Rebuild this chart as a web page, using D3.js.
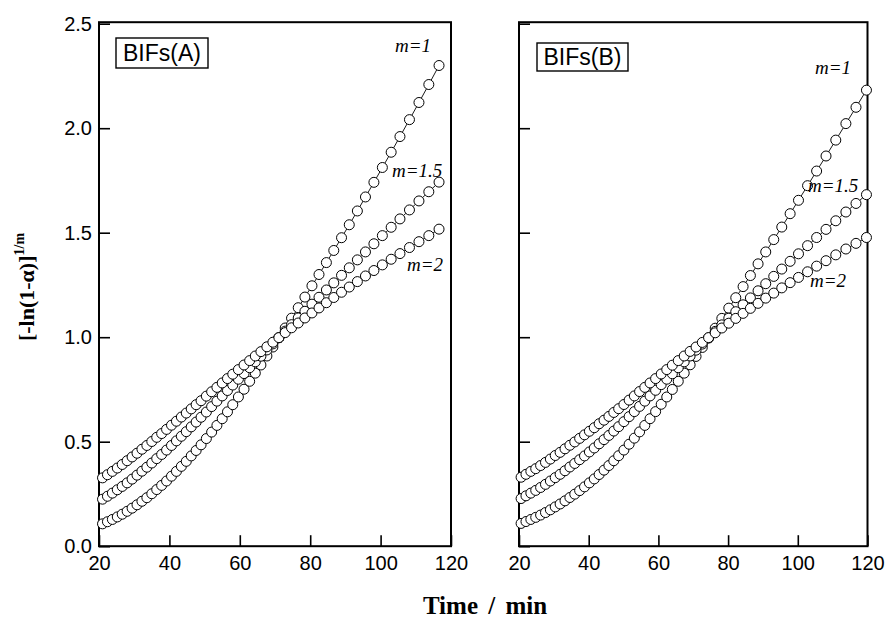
<!DOCTYPE html>
<html>
<head>
<meta charset="utf-8">
<script src="https://cdn.jsdelivr.net/npm/d3@7"></script>
<style>
    body { margin: 0; background: #fff; }
    .tick text { font-family: "Liberation Sans", Arial, Helvetica, sans-serif; font-size: 20px; fill: #000; }
    .tick line { stroke: #000; stroke-width: 1.6px; }
    .frame { fill: none; stroke: #000; stroke-width: 2px; }
    .series-line { fill: none; stroke: #000; stroke-width: 0.9px; }
    .pt { fill: #fff; stroke: #000; stroke-width: 1px; }
    .tag { font-family: "Liberation Sans", Arial, sans-serif; font-size: 23px; }
    .tagBox { fill: #fff; stroke: #000; stroke-width: 1.4px; }
    .mlabel { font-family: "Liberation Serif", "Times New Roman", serif; font-style: italic; font-size: 19px; }
    .axisTitle { font-family: "Liberation Serif", "Times New Roman", serif; font-weight: bold; font-size: 22px; }
</style>
</head>
<body>
<script>
//axis ticks
var xTicks = [20, 40, 60, 80, 100, 120];
var yTicks = [0.0, 0.5, 1.0, 1.5, 2.0, 2.5];
var seriesNames = ["m=1", "m=1.5", "m=2"];

//panel A : time (min) and [-ln(1-a)]^(1/m) for each m
var timeA = [21, 22.4, 23.8, 25.2, 26.6, 28, 29.4, 30.8, 32.2, 33.6,
    35, 36.4, 37.8, 39.2, 40.6, 42, 43.4, 44.8, 46.2, 47.6,
    49, 50.5, 52, 53.5, 55, 56.5, 58, 59.6, 61.2, 62.8,
    64.4, 66, 67.7, 69.4, 71.1, 72.9, 74.7, 76.6, 78.5, 80.5,
    82.5, 84.6, 86.7, 88.9, 91.1, 93.4, 95.7, 98.1, 100.5, 103,
    105.5, 108.2, 110.9, 113.7, 116.6];
var m1A = [0.107, 0.117, 0.128, 0.140, 0.153, 0.167, 0.182, 0.198, 0.215, 0.232,
    0.251, 0.271, 0.291, 0.312, 0.335, 0.358, 0.382, 0.406, 0.432, 0.458,
    0.485, 0.515, 0.546, 0.578, 0.610, 0.643, 0.677, 0.714, 0.751, 0.789,
    0.828, 0.867, 0.910, 0.953, 0.997, 1.044, 1.091, 1.141, 1.192, 1.246,
    1.300, 1.357, 1.415, 1.476, 1.538, 1.604, 1.671, 1.741, 1.812, 1.885,
    1.960, 2.041, 2.123, 2.209, 2.300];
var m15A = [0.225, 0.239, 0.254, 0.270, 0.286, 0.303, 0.321, 0.340, 0.359, 0.378,
    0.398, 0.419, 0.439, 0.460, 0.482, 0.504, 0.526, 0.548, 0.571, 0.594,
    0.617, 0.642, 0.668, 0.694, 0.719, 0.745, 0.771, 0.799, 0.826, 0.854,
    0.882, 0.909, 0.939, 0.968, 0.998, 1.029, 1.060, 1.092, 1.124, 1.158,
    1.191, 1.226, 1.260, 1.296, 1.332, 1.370, 1.408, 1.447, 1.486, 1.526,
    1.566, 1.609, 1.652, 1.696, 1.742];
var m2A = [0.327, 0.342, 0.358, 0.374, 0.391, 0.409, 0.427, 0.445, 0.464, 0.482,
    0.501, 0.521, 0.539, 0.559, 0.579, 0.598, 0.618, 0.637, 0.657, 0.677,
    0.696, 0.718, 0.739, 0.760, 0.781, 0.802, 0.823, 0.845, 0.867, 0.888,
    0.910, 0.931, 0.954, 0.976, 0.998, 1.022, 1.045, 1.068, 1.092, 1.116,
    1.140, 1.165, 1.190, 1.215, 1.240, 1.266, 1.293, 1.319, 1.346, 1.373,
    1.400, 1.429, 1.457, 1.486, 1.517];

//panel B
var timeB = [20.6, 22, 23.4, 24.8, 26.2, 27.6, 29, 30.4, 31.8, 33.2,
    34.6, 36, 37.4, 38.8, 40.2, 41.6, 43, 44.4, 45.8, 47.2,
    48.6, 50.1, 51.6, 53.1, 54.6, 56.1, 57.6, 59.2, 60.8, 62.4,
    64, 65.7, 67.4, 69.1, 70.8, 72.6, 74.4, 76.3, 78.2, 80.2,
    82.2, 84.3, 86.4, 88.6, 90.8, 93.1, 95.4, 97.8, 100.2, 102.8,
    105.4, 108.1, 110.9, 113.8, 116.7, 119.7];
var m1B = [0.109, 0.118, 0.128, 0.138, 0.149, 0.161, 0.174, 0.188, 0.202, 0.217,
    0.233, 0.249, 0.266, 0.284, 0.303, 0.322, 0.343, 0.364, 0.386, 0.409,
    0.433, 0.460, 0.488, 0.517, 0.547, 0.578, 0.610, 0.644, 0.679, 0.714,
    0.750, 0.789, 0.828, 0.868, 0.908, 0.951, 0.996, 1.043, 1.090, 1.139,
    1.189, 1.242, 1.295, 1.351, 1.408, 1.467, 1.527, 1.591, 1.655, 1.725,
    1.795, 1.867, 1.943, 2.022, 2.100, 2.182];
var m15B = [0.228, 0.241, 0.254, 0.267, 0.281, 0.296, 0.312, 0.328, 0.344, 0.361,
    0.379, 0.396, 0.414, 0.432, 0.451, 0.470, 0.490, 0.510, 0.530, 0.551,
    0.572, 0.596, 0.620, 0.644, 0.669, 0.694, 0.719, 0.746, 0.773, 0.799,
    0.825, 0.854, 0.882, 0.910, 0.938, 0.967, 0.997, 1.028, 1.059, 1.091,
    1.122, 1.155, 1.188, 1.222, 1.256, 1.291, 1.326, 1.363, 1.399, 1.438,
    1.477, 1.516, 1.557, 1.599, 1.640, 1.682];
var m2B = [0.330, 0.344, 0.358, 0.371, 0.386, 0.401, 0.417, 0.434, 0.449, 0.466,
    0.483, 0.499, 0.516, 0.533, 0.550, 0.567, 0.586, 0.603, 0.621, 0.640,
    0.658, 0.678, 0.699, 0.719, 0.740, 0.760, 0.781, 0.802, 0.824, 0.845,
    0.866, 0.888, 0.910, 0.932, 0.953, 0.975, 0.998, 1.021, 1.044, 1.067,
    1.090, 1.114, 1.138, 1.162, 1.187, 1.211, 1.236, 1.261, 1.286, 1.313,
    1.340, 1.366, 1.394, 1.422, 1.449, 1.477];

(function() {

    var width = 889,
        height = 628,
        plotTop = 23.7,
        plotBottom = 546.2;

    var svg = d3.select("body")
        .append("svg")
        .attr("width", width)
        .attr("height", height);

    //panel layouts
    var panels = [
        {
            tag: "BIFs(A)", left: 99, right: 451, yLabels: true,
            time: timeA, values: [m1A, m15A, m2A],
            box: [116, 38, 92, 30],
            labelPos: [[395, 52], [392, 177], [407, 271]]
        },
        {
            tag: "BIFs(B)", left: 519, right: 867.5, yLabels: false,
            time: timeB, values: [m1B, m15B, m2B],
            box: [537, 43, 91, 28],
            labelPos: [[815, 74], [808, 192], [810, 287]]
        }
    ];

    panels.forEach(drawPanel);

    //y axis title, rotated
    var yTitle = svg.append("text")
        .attr("class", "axisTitle")
        .attr("text-anchor", "middle")
        .attr("transform", "translate(34,287) rotate(-90)");
    yTitle.append("tspan").text("[-ln(1-\u03B1)]");
    yTitle.append("tspan")
        .attr("dy", -10)
        .style("font-size", "14px")
        .text("1/m");

    //x axis title
    svg.append("text")
        .attr("class", "axisTitle")
        .attr("text-anchor", "middle")
        .attr("x", 485)
        .attr("y", 614)
        .style("font-size", "25px")
        .style("word-spacing", "4px")
        .text("Time / min");

    function drawPanel(p) {
        var x = d3.scaleLinear()
            .domain([20, 120])
            .range([p.left, p.right]);
        var y = d3.scaleLinear()
            .domain([0, 2.5])
            .range([plotBottom, plotTop]);

        var g = svg.append("g").attr("class", "panel");

        //bottom axis, ticks pointing inward
        var xAxis = d3.axisBottom(x)
            .tickValues(xTicks)
            .tickSizeInner(-11)
            .tickSizeOuter(0)
            .tickPadding(10)
            .tickFormat(d3.format("d"));
        g.append("g")
            .attr("transform", "translate(0," + plotBottom + ")")
            .call(xAxis)
            .call(function(s) { s.select(".domain").remove(); });

        //left axis
        var yAxis = d3.axisLeft(y)
            .tickValues(yTicks)
            .tickSizeInner(-11)
            .tickSizeOuter(0)
            .tickPadding(7)
            .tickFormat(p.yLabels ? d3.format(".1f") : "");
        g.append("g")
            .attr("transform", "translate(" + p.left + ",0)")
            .call(yAxis)
            .call(function(s) { s.select(".domain").remove(); });

        //frame
        g.append("rect")
            .attr("class", "frame")
            .attr("x", p.left)
            .attr("y", plotTop - 1.5)
            .attr("width", p.right - p.left)
            .attr("height", plotBottom - plotTop + 1.5);

        var line = d3.line()
            .x(function(d) { return x(d[0]); })
            .y(function(d) { return y(d[1]); });

        //each series: thin connecting line, then open circles
        p.values.forEach(function(vals, k) {
            var pts = p.time.map(function(t, i) { return [t, vals[i]]; });
            var sg = g.append("g").attr("class", "series");
            sg.append("path")
                .datum(pts)
                .attr("class", "series-line")
                .attr("d", line);
            sg.selectAll(".pt")
                .data(pts)
                .enter()
                .append("circle")
                .attr("class", "pt")
                .attr("cx", function(d) { return x(d[0]); })
                .attr("cy", function(d) { return y(d[1]); })
                .attr("r", 5);

            svg.append("text")
                .attr("class", "mlabel")
                .attr("x", p.labelPos[k][0])
                .attr("y", p.labelPos[k][1])
                .text(seriesNames[k]);
        });

        //boxed panel tag
        svg.append("rect")
            .attr("class", "tagBox")
            .attr("x", p.box[0])
            .attr("y", p.box[1])
            .attr("width", p.box[2])
            .attr("height", p.box[3]);
        svg.append("text")
            .attr("class", "tag")
            .attr("x", p.box[0] + p.box[2] / 2)
            .attr("y", p.box[1] + p.box[3] / 2 + 8)
            .attr("text-anchor", "middle")
            .text(p.tag);
    }

})();
</script>
</body>
</html>
